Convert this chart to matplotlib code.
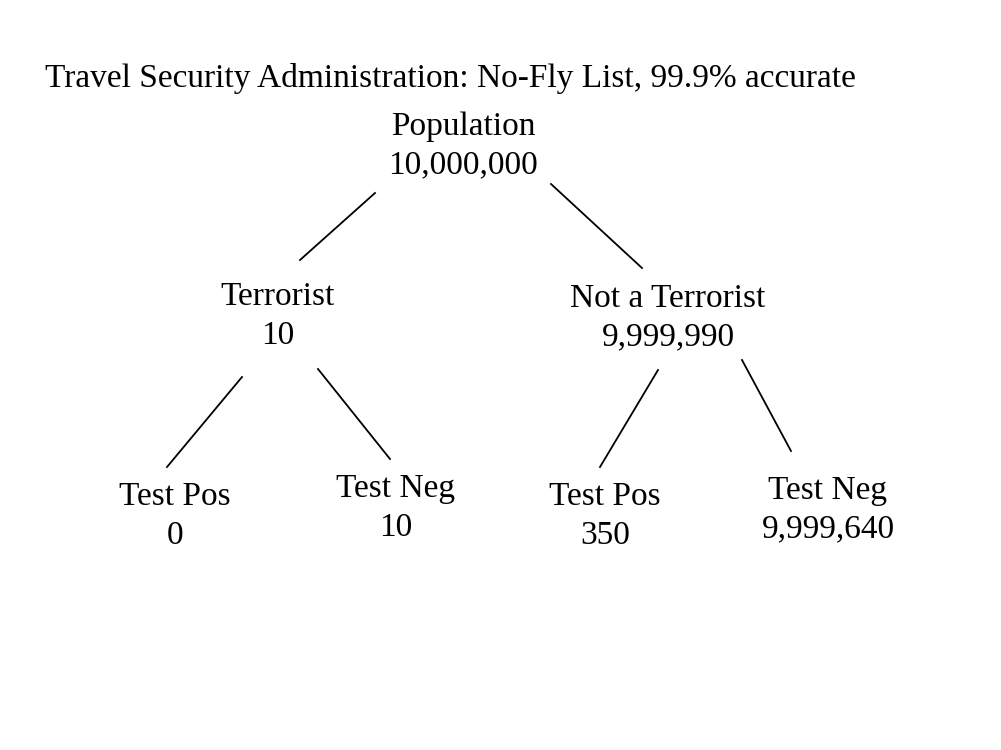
import matplotlib
matplotlib.use("Agg")
import matplotlib.pyplot as plt

TITLE = "Travel Security Administration: No-Fly List, 99.9% accurate"
NODE_NAMES = ["Population", "Terrorist", "Not a Terrorist",
              "Test Pos", "Test Neg", "Test Pos", "Test Neg"]
NODE_COUNTS = [10_000_000, 10, 9_999_990, 0, 10, 350, 9_999_640]

# layout in pixels (x, y from top)
NODE_POS = [(463, 146), (278, 316), (668, 318),
            (175, 516), (396, 508), (605, 516), (828, 510)]
EDGES = [((375, 193), (300, 260)), ((551, 184), (642, 268)),
         ((242, 377), (167, 467)), ((318, 369), (390, 459)),
         ((658, 370), (600, 467)), ((742, 360), (791, 451))]

fig = plt.figure(figsize=(10.01, 7.5), dpi=100)
ax = fig.add_axes([0, 0, 1, 1])
ax.set_xlim(0, 1001)
ax.set_ylim(750, 0)
ax.axis("off")

font = dict(family="Liberation Serif", fontsize=24)
ax.text(45, 78, TITLE, ha="left", va="center", **font)
for name, count, (x, y) in zip(NODE_NAMES, NODE_COUNTS, NODE_POS):
    ax.text(x, y, f"{name}\n{count:,}", ha="center", va="center",
            linespacing=1.35, **font)
for (x0, y0), (x1, y1) in EDGES:
    ax.plot([x0, x1], [y0, y1], color="black", lw=1.3)

fig.savefig("out.png", dpi=100)
